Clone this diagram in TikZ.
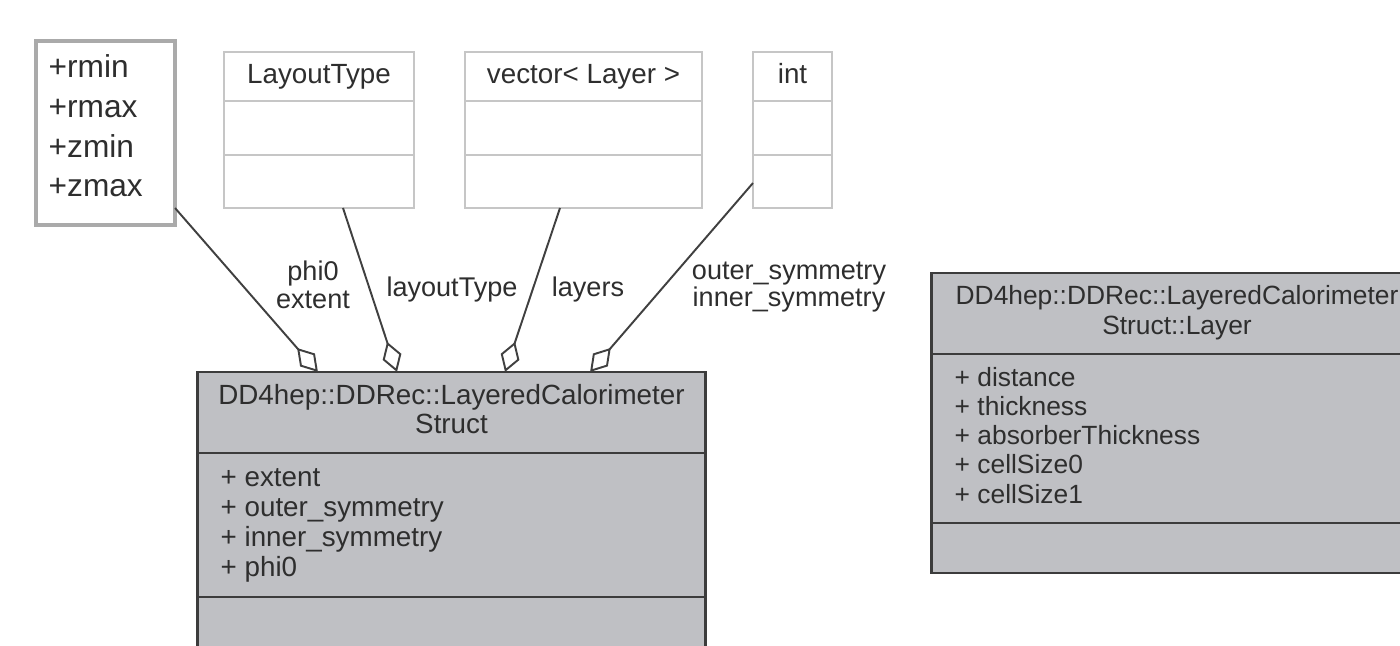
\documentclass[tikz,border=0pt]{standalone}
\usepackage{fontspec}
\setmainfont{Liberation Sans}
\usetikzlibrary{arrows.meta}
\definecolor{classfill}{HTML}{BFC0C4}
\definecolor{classedge}{HTML}{3C3C3C}
\definecolor{typeedge}{HTML}{C6C6C6}
\definecolor{rangeedge}{HTML}{AAAAAA}
\definecolor{edgegray}{HTML}{404040}
\definecolor{textgray}{HTML}{2E2E2E}
\tikzset{
  classbox/.style={draw=classedge, fill=classfill, line width=0.8pt, inner sep=0pt, outer sep=0pt},
  typebox/.style={draw=typeedge, fill=white, line width=0.6pt, inner sep=0pt, outer sep=0pt},
  rangebox/.style={draw=rangeedge, fill=white, line width=1.2pt, inner sep=0pt, outer sep=0pt},
  classtext/.style={font=\fontsize{7.9}{9.5}\selectfont, text=textgray, inner sep=0pt},
  layertext/.style={font=\fontsize{7.5}{9}\selectfont, text=textgray, inner sep=0pt},
  rangetext/.style={font=\fontsize{9}{11}\selectfont, text=textgray, inner sep=0pt, anchor=base west},
  edgelabel/.style={font=\fontsize{7.7}{7.9}\selectfont, text=textgray, align=center, inner sep=0pt},
  aggregation/.style={draw=edgegray, line width=0.55pt, -{Diamond[open, length=9pt, width=5.6pt]}}
}
\begin{document}
\begin{tikzpicture}[x=0.01cm, y=-0.01cm]
        \useasboundingbox (0,0) rectangle (1400,646);
        \clip (0,0) rectangle (1400,646);
        % boxes
        \node[rangebox, minimum width=1.39cm, minimum height=1.84cm] (range) at (105.5,133) {};
        \node[typebox, minimum width=1.90cm, minimum height=1.56cm] (layouttype) at (319,130) {};
        \node[typebox, minimum width=2.37cm, minimum height=1.56cm] (vectorlayer) at (583.5,130) {};
        \node[typebox, minimum width=0.79cm, minimum height=1.56cm] (inttype) at (792.5,130) {};
        \node[classbox, minimum width=5.07cm, minimum height=2.88cm] (calo) at (451.5,516) {};
        \node[classbox, minimum width=5.12cm, minimum height=3.00cm] (layer) at (1188,423) {};
        % compartments
        \draw[typeedge, line width=0.6pt] (224,101) -- (414,101);\draw[typeedge, line width=0.6pt] (224,155) -- (414,155);
        \draw[typeedge, line width=0.6pt] (465,101) -- (702,101);\draw[typeedge, line width=0.6pt] (465,155) -- (702,155);
        \draw[typeedge, line width=0.6pt] (753,101) -- (832,101);\draw[typeedge, line width=0.6pt] (753,155) -- (832,155);
        \draw[classedge, line width=0.8pt] (198,453) -- (705,453);\draw[classedge, line width=0.8pt] (198,597) -- (705,597);
        \draw[classedge, line width=0.8pt] (932,354) -- (1444,354);\draw[classedge, line width=0.8pt] (932,523) -- (1444,523);
        % texts
        \node[rangetext] (rmin) at (48,78) {+rmin};\node[rangetext] (rmax) at (48,118) {+rmax};
        \node[rangetext] (zmin) at (48,158) {+zmin};\node[rangetext] (zmax) at (48,197) {+zmax};
        \node[classtext, anchor=base] (layouttypetitle) at (319,84) {LayoutType};
        \node[classtext, anchor=base] (vectortitle) at (583.5,84) {vector< Layer >};
        \node[classtext, anchor=base] (inttitle) at (792.5,84) {int};
        
        \node[classtext, anchor=base] (calotitle) at (451.5,405) {DD4hep::DDRec::LayeredCalorimeter};
        \node[classtext, anchor=base] (calotitleb) at (451.5,433) {Struct};
        \node[classtext, anchor=base west] (extent) at (220,486) {+ extent};
        \node[classtext, anchor=base west] (outer) at (220,516) {+ outer\_symmetry};
        \node[classtext, anchor=base west] (inner) at (220,546) {+ inner\_symmetry};
        \node[classtext, anchor=base west] (phi) at (220,576) {+ phi0};
        
        \node[layertext, anchor=base] (layertitle) at (1177,305) {DD4hep::DDRec::LayeredCalorimeter};
        \node[layertext, anchor=base] (layertitleb) at (1177,335) {Struct::Layer};
        \node[layertext, anchor=base west] (distance) at (954,387) {+ distance};
        \node[layertext, anchor=base west] (thickness) at (954,416) {+ thickness};
        \node[layertext, anchor=base west] (absorber) at (954,445) {+ absorberThickness};
        \node[layertext, anchor=base west] (cellzero) at (954,474) {+ cellSize0};
        \node[layertext, anchor=base west] (cellone) at (954,503) {+ cellSize1};
        % connectors
        \draw[aggregation] ([yshift=0.17cm]range.south east) -- ([xshift=-1.335cm]calo.north);
        \draw[aggregation] ([xshift=0.24cm]layouttype.south) -- ([xshift=-0.545cm]calo.north);
        \draw[aggregation] ([xshift=-0.235cm]vectorlayer.south) -- ([xshift=0.535cm]calo.north);
        \draw[aggregation] ([yshift=-0.53cm]inttype.west) -- ([xshift=1.385cm]calo.north);
        % labels
        \node[edgelabel] (philabel) at (313,285) {phi0\\extent};
        \node[edgelabel, anchor=base] (layoutlabel) at (452,297) {layoutType};
        \node[edgelabel, anchor=base] (layerslabel) at (588,297) {layers};
        \node[edgelabel] (symlabel) at (789,287) {outer\_symmetry\\inner\_symmetry};
    \end{tikzpicture}
\end{document}
